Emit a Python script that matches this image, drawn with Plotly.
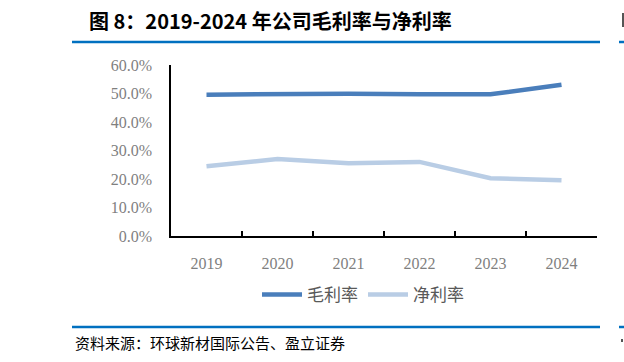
import plotly.graph_objects as go

years = ["2019", "2020", "2021", "2022", "2023", "2024"]
gross_margin = [0.496, 0.499, 0.499, 0.497, 0.497, 0.531]
net_margin = [0.245, 0.270, 0.255, 0.260, 0.203, 0.196]
series_names = ["毛利率", "净利率"]
title_text = "图 8：2019-2024 年公司毛利率与净利率"
source_text = "资料来源：环球新材国际公告、盈立证券"

W, H = 624, 362
L, R, T, B = 171, 27, 65, 126
pw, ph = W - L - R, H - T - B

def px(x):
    return (x - L) / pw

def py(y):
    return (H - B - y) / ph

fig = go.Figure()
fig.add_trace(go.Scatter(x=years, y=gross_margin, name=series_names[0], mode="lines",
                         line=dict(color="#4A7EBB", width=4.5)))
fig.add_trace(go.Scatter(x=years, y=net_margin, name=series_names[1], mode="lines",
                         line=dict(color="#B9CDE5", width=4.5)))

blue = "#0070C0"
fig.update_layout(
    width=W, height=H,
    margin=dict(l=L, r=R, t=T, b=B),
    paper_bgcolor="white", plot_bgcolor="white",
    showlegend=True,
    legend=dict(orientation="h", x=px(363), xanchor="center", y=py(295), yanchor="middle",
                font=dict(family="Noto Sans CJK SC", size=17, color="#595959"),
                itemwidth=40, tracegroupgap=0, bgcolor="rgba(0,0,0,0)"),
    xaxis=dict(type="category", range=[-0.5, 5.5], showline=True, linecolor="black", linewidth=1.5,
               ticks="inside", tickson="boundaries", ticklen=5, tickcolor="black", tickwidth=1.5,
               showgrid=False, zeroline=False, ticklabelstandoff=12,
               tickfont=dict(family="Liberation Serif", size=16, color="#7F7F7F")),
    yaxis=dict(range=[0, 0.6], dtick=0.1, tickformat=".1%", showline=True, linecolor="black",
               linewidth=1.5, showgrid=False, zeroline=False, ticks="", ticklabelstandoff=14,
               tickfont=dict(family="Liberation Serif", size=16, color="#7F7F7F")),
    shapes=[
        dict(type="line", xref="paper", yref="paper", x0=px(72), x1=px(600), y0=py(42), y1=py(42),
             line=dict(color=blue, width=2.5)),
        dict(type="line", xref="paper", yref="paper", x0=px(619), x1=px(624), y0=py(42), y1=py(42),
             line=dict(color=blue, width=2.5)),
        dict(type="line", xref="paper", yref="paper", x0=px(72), x1=px(600), y0=py(327), y1=py(327),
             line=dict(color=blue, width=2.5)),
        dict(type="line", xref="paper", yref="paper", x0=px(619), x1=px(624), y0=py(327), y1=py(327),
             line=dict(color=blue, width=2.5)),
        dict(type="rect", xref="paper", yref="paper", x0=px(622), x1=px(624), y0=py(27), y1=py(13),
             line=dict(width=0), fillcolor="#555555"),
        dict(type="rect", xref="paper", yref="paper", x0=px(621), x1=px(623), y0=py(342), y1=py(339),
             line=dict(width=0), fillcolor="#555555"),
    ],
    annotations=[
        dict(text="<b>" + title_text + "</b>", xref="paper", yref="paper", x=px(87), y=py(20),
             xanchor="left", yanchor="middle", showarrow=False,
             font=dict(family="Noto Sans CJK SC", size=20, color="black")),
        dict(text=source_text, xref="paper", yref="paper", x=px(73), y=py(342),
             xanchor="left", yanchor="middle", showarrow=False,
             font=dict(family="Noto Sans CJK SC", size=15, color="black")),
    ],
)

fig.write_html("out.html", config={"displayModeBar": False},
               post_script="document.body.style.margin='0';document.body.style.padding='0';")
